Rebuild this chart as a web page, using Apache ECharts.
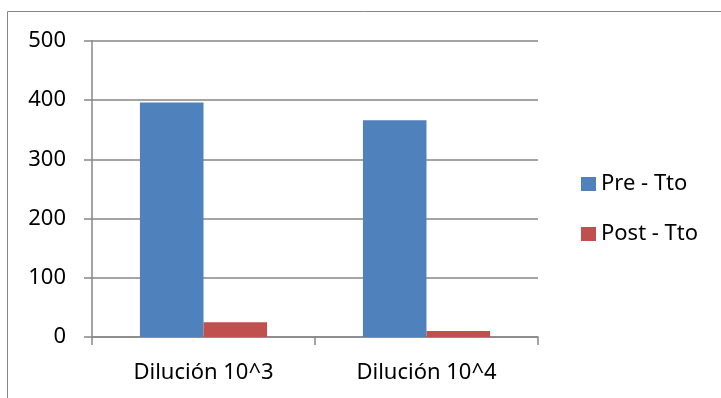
<!DOCTYPE html>
<html>
<head>
<meta charset="utf-8">
<script src="https://cdn.jsdelivr.net/npm/echarts@6/dist/echarts.min.js"></script>
<style>
    html, body { margin: 0; padding: 0; background: #fff; }
    #chart { width: 721px; height: 398px; }
</style>
</head>
<body>
<div id="chart"></div>
<script>
// categorias y valores
const categories = ['Dilución 10^3', 'Dilución 10^4']
const seriesNames = ['Pre - Tto', 'Post - Tto']
const preValues = [396, 366]
const postValues = [25, 10]

const axisGray = '#868686'
const font = 'Noto Sans'

const chart = echarts.init(document.getElementById('chart'))

const option = {
    backgroundColor: '#fff',
    animation: false,
    color: ['#4f81bd', '#c0504d'],
    graphic: [
        {
            type: 'rect',
            shape: { x: 7.5, y: 11.5, width: 760, height: 420 },
            style: { fill: 'none', stroke: axisGray, lineWidth: 1 },
            silent: true
        }
    ],
    grid: {
        left: 92,
        right: 183,
        top: 41,
        bottom: 61
    },
    legend: {
        orient: 'vertical',
        left: 576,
        top: 168,
        itemGap: 28,
        itemWidth: 15,
        itemHeight: 14,
        icon: 'rect',
        textStyle: { fontFamily: font, fontSize: 22, color: '#000' },
        data: seriesNames
    },
    xAxis: {
        type: 'category',
        data: categories,
        axisLine: { lineStyle: { color: axisGray, width: 1.5 } },
        axisTick: { show: true, length: 8, lineStyle: { color: axisGray, width: 1.5 } },
        axisLabel: { fontFamily: font, fontSize: 22, color: '#000', margin: 25 }
    },
    yAxis: {
        type: 'value',
        min: 0,
        max: 500,
        interval: 100,
        axisLine: { show: true, lineStyle: { color: axisGray, width: 1.5 } },
        axisTick: { show: true, length: 8, lineStyle: { color: axisGray, width: 1.5 } },
        splitLine: { lineStyle: { color: axisGray, width: 1.5 } },
        axisLabel: { fontFamily: font, fontSize: 22, color: '#000', margin: 26 }
    },
    series: [
        {
            name: seriesNames[0],
            type: 'bar',
            data: preValues,
            barGap: '0%',
            barCategoryGap: '43%'
        },
        {
            name: seriesNames[1],
            type: 'bar',
            data: postValues
        }
    ]
}

chart.setOption(option)
</script>
</body>
</html>
